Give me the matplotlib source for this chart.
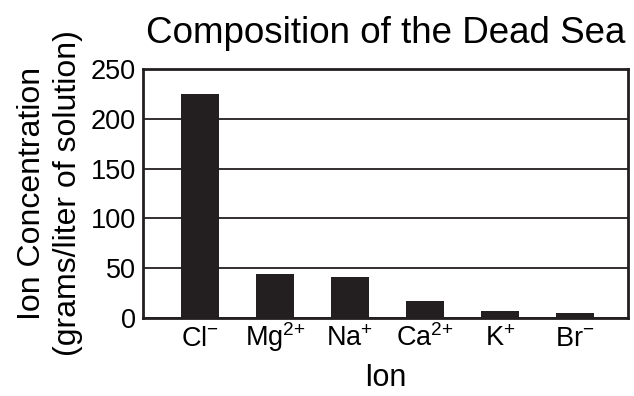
import numpy as np
import matplotlib
matplotlib.use("Agg")
import matplotlib.pyplot as plt

plt.rcParams['font.family'] = ['Liberation Sans', 'DejaVu Sans']
plt.rcParams['mathtext.fontset'] = 'custom'
plt.rcParams['mathtext.rm'] = 'Liberation Sans'
plt.rcParams['mathtext.it'] = 'Liberation Sans'
plt.rcParams['mathtext.bf'] = 'Liberation Sans:bold'

# data
ions = [r'Cl$^{-}$', r'Mg$^{2{+}}$', r'Na$^{+}$', r'Ca$^{2{+}}$', r'K$^{+}$', r'Br$^{-}$']
conc = [225, 44, 41, 17, 7.5, 5.5]
yticks = [0, 50, 100, 150, 200, 250]

fig = plt.figure(figsize=(6.34, 3.96), dpi=100)
ax = fig.add_axes([0.2256, 0.197, 0.765, 0.629])

x = np.arange(len(ions))
ax.bar(x, conc, width=0.507, color='#231f20', zorder=3)

ax.set_xlim(-0.76, 5.71)
ax.set_ylim(0, 250)
ax.set_yticks(yticks)
ax.set_xticks(x)
ax.set_xticklabels(ions, fontsize=19.5, va='baseline')
ax.tick_params(axis='y', labelsize=19.5, length=0, pad=5)
ax.tick_params(axis='x', length=0, pad=20)
ax.yaxis.grid(True, color='#231f20', linewidth=1.3, zorder=1)

for s in ax.spines.values():
    s.set_linewidth(2)
    s.set_color('#231f20')

ax.set_title("Composition of the Dead Sea", fontsize=26.5, pad=19)
ax.set_xlabel("Ion", fontsize=22, labelpad=7)
ax.set_ylabel("Ion Concentration\n(grams/liter of solution)", fontsize=23, labelpad=6, linespacing=1.25)

fig.savefig("out.png", dpi=100)
